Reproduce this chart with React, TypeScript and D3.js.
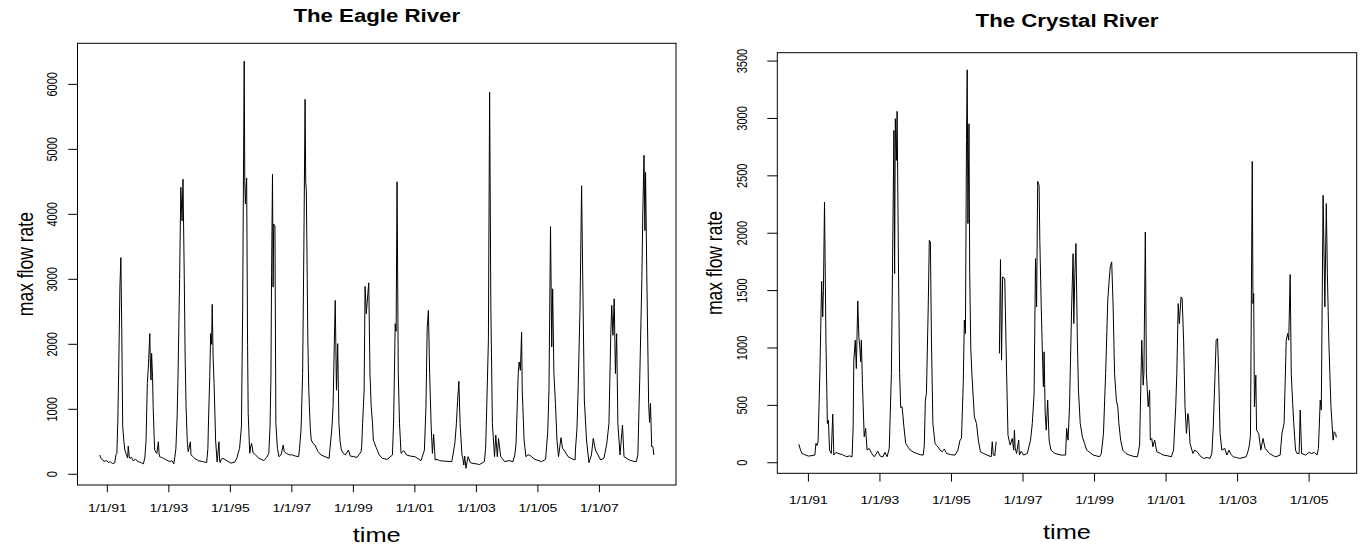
import React from "react";
import * as d3 from "d3";

const SX = 1.27;
const FONT = "'Liberation Sans', Arial, Helvetica, sans-serif";

type Pt = [number, number] | null;

const eagleSeries: Pt[] = [
  [1990.75, 297], [1990.8, 240], [1990.86, 215], [1990.91, 200], [1990.97, 210], [1991.04, 185], [1991.1, 190], [1991.17, 165], [1991.24, 175], [1991.28, 300], [1991.31, 320], [1991.34, 800], [1991.37, 1600], [1991.41, 2900], [1991.44, 3335], [1991.47, 2200], [1991.5, 730], [1991.54, 500], [1991.57, 373], [1991.62, 300], [1991.66, 250], [1991.68, 435], [1991.71, 280], [1991.73, 245], [1991.79, 260], [1991.84, 210], [1991.92, 230], [1992.0, 195], [1992.1, 180], [1992.17, 160], [1992.22, 250], [1992.26, 527], [1992.3, 1400], [1992.34, 1700], [1992.38, 2165], [1992.4, 1700], [1992.42, 1450], [1992.44, 1860], [1992.47, 1500], [1992.49, 1040], [1992.52, 600], [1992.54, 373], [1992.58, 340], [1992.61, 320], [1992.66, 500], [1992.68, 330], [1992.7, 270], [1992.76, 260], [1992.83, 245], [1992.92, 220], [1993.03, 195], [1993.1, 210], [1993.16, 160], [1993.2, 280], [1993.23, 400], [1993.27, 900], [1993.3, 1550], [1993.35, 3000], [1993.39, 4415], [1993.43, 3900], [1993.46, 4540], [1993.5, 3085], [1993.53, 1800], [1993.56, 1040], [1993.6, 500], [1993.63, 348], [1993.7, 500], [1993.72, 300], [1993.76, 280], [1993.85, 240], [1993.96, 210], [1994.1, 195], [1994.23, 180], [1994.27, 400], [1994.29, 834], [1994.33, 1500], [1994.36, 2165], [1994.39, 2000], [1994.41, 2614], [1994.44, 1800], [1994.47, 1396], [1994.5, 900], [1994.52, 527], [1994.57, 190], [1994.63, 500], [1994.65, 220], [1994.67, 180], [1994.7, 230], [1994.76, 245], [1994.85, 220], [1994.92, 200], [1995.02, 170], [1995.15, 190], [1995.22, 260], [1995.25, 322], [1995.3, 400], [1995.36, 731], [1995.4, 2500], [1995.42, 4107], [1995.45, 6358], [1995.47, 4500], [1995.49, 4160], [1995.51, 4400], [1995.53, 4560], [1995.56, 2000], [1995.58, 936], [1995.63, 322], [1995.66, 420], [1995.69, 475], [1995.74, 330], [1995.82, 297], [1995.92, 250], [1996.0, 230], [1996.09, 210], [1996.18, 260], [1996.25, 322], [1996.29, 731], [1996.32, 1500], [1996.34, 3085], [1996.37, 4619], [1996.39, 2880], [1996.41, 3850], [1996.43, 3830], [1996.45, 3826], [1996.48, 782], [1996.53, 400], [1996.58, 271], [1996.65, 300], [1996.72, 450], [1996.75, 350], [1996.82, 322], [1996.92, 300], [1997.02, 297], [1997.12, 280], [1997.22, 271], [1997.25, 400], [1997.3, 700], [1997.35, 1550], [1997.39, 3500], [1997.43, 5770], [1997.45, 4500], [1997.47, 4363], [1997.5, 3000], [1997.52, 2061], [1997.55, 1300], [1997.57, 1040], [1997.6, 700], [1997.63, 527], [1997.68, 480], [1997.75, 450], [1997.85, 350], [1997.95, 297], [1998.08, 270], [1998.21, 245], [1998.24, 400], [1998.3, 700], [1998.34, 1040], [1998.38, 2000], [1998.41, 2675], [1998.45, 1294], [1998.49, 2010], [1998.53, 782], [1998.57, 500], [1998.61, 373], [1998.68, 320], [1998.74, 297], [1998.84, 373], [1998.9, 280], [1999.01, 271], [1999.12, 260], [1999.25, 348], [1999.27, 425], [1999.3, 782], [1999.35, 1294], [1999.38, 2890], [1999.42, 2470], [1999.47, 2777], [1999.5, 2946], [1999.54, 1550], [1999.58, 1040], [1999.62, 800], [1999.65, 527], [1999.74, 414], [1999.84, 300], [1999.94, 245], [2000.1, 230], [2000.27, 297], [2000.31, 834], [2000.36, 2317], [2000.39, 2200], [2000.42, 4501], [2000.46, 1550], [2000.5, 782], [2000.55, 322], [2000.64, 363], [2000.73, 297], [2000.85, 280], [2001.0, 271], [2001.1, 240], [2001.2, 210], [2001.31, 373], [2001.36, 1040], [2001.4, 2256], [2001.44, 2522], [2001.48, 1550], [2001.53, 731], [2001.57, 322], [2001.61, 614], [2001.66, 220], [2001.72, 230], [2001.8, 210], [2002.0, 200], [2002.2, 195], [2002.3, 475], [2002.35, 782], [2002.39, 1140], [2002.43, 1432], [2002.47, 782], [2002.53, 300], [2002.56, 250], [2002.59, 143], [2002.62, 280], [2002.66, 92], [2002.7, 200], [2002.73, 271], [2002.8, 180], [2002.86, 170], [2003.0, 160], [2003.1, 150], [2003.26, 195], [2003.3, 400], [2003.32, 731], [2003.39, 2061], [2003.43, 5882], [2003.47, 2573], [2003.52, 782], [2003.59, 271], [2003.63, 604], [2003.68, 271], [2003.72, 552], [2003.79, 271], [2003.92, 195], [2004.05, 210], [2004.19, 195], [2004.25, 300], [2004.29, 475], [2004.36, 1550], [2004.39, 1729], [2004.43, 1600], [2004.47, 2189], [2004.49, 1300], [2004.55, 527], [2004.61, 271], [2004.68, 300], [2004.74, 290], [2004.9, 230], [2005.12, 195], [2005.25, 230], [2005.32, 655], [2005.36, 1294], [2005.41, 3810], [2005.45, 1959], [2005.48, 2854], [2005.52, 1550], [2005.57, 1090], [2005.62, 527], [2005.67, 271], [2005.75, 563], [2005.8, 400], [2005.85, 373], [2005.98, 271], [2006.1, 240], [2006.21, 220], [2006.22, 373], [2006.27, 700], [2006.31, 1345], [2006.37, 2573], [2006.42, 4440], [2006.47, 2573], [2006.51, 1140], [2006.58, 527], [2006.66, 179], [2006.74, 297], [2006.8, 552], [2006.87, 373], [2006.95, 300], [2007.04, 220], [2007.15, 250], [2007.24, 475], [2007.31, 782], [2007.37, 2164], [2007.4, 2599], [2007.44, 2138], [2007.48, 2700], [2007.52, 1550], [2007.56, 2164], [2007.6, 782], [2007.67, 297], [2007.75, 757], [2007.8, 271], [2007.97, 220], [2008.1, 200], [2008.2, 195], [2008.25, 300], [2008.31, 1447], [2008.38, 3000], [2008.41, 4005], [2008.45, 4910], [2008.48, 3750], [2008.5, 4645], [2008.54, 3085], [2008.6, 1090], [2008.63, 800], [2008.66, 1090], [2008.7, 425], [2008.74, 425], [2008.77, 297],
];

const crystalSeries: Pt[] = [
  [1990.73, 162], [1990.78, 110], [1990.82, 81], [1990.9, 70], [1991.0, 58], [1991.1, 62], [1991.18, 67], [1991.21, 168], [1991.24, 150], [1991.27, 183], [1991.32, 778], [1991.37, 1581], [1991.4, 1271], [1991.42, 1500], [1991.45, 2272], [1991.49, 1068], [1991.53, 342], [1991.56, 371], [1991.59, 110], [1991.64, 81], [1991.68, 424], [1991.71, 67], [1991.77, 90], [1991.83, 81], [1991.95, 70], [1992.07, 52], [1992.15, 60], [1992.22, 52], [1992.25, 300], [1992.27, 894], [1992.31, 1068], [1992.34, 821], [1992.38, 1410], [1992.41, 1097], [1992.44, 1000], [1992.46, 879], [1992.48, 1068], [1992.51, 691], [1992.56, 226], [1992.6, 299], [1992.64, 110], [1992.7, 125], [1992.77, 80], [1992.84, 52], [1992.94, 100], [1993.0, 60], [1993.08, 50], [1993.14, 90], [1993.2, 52], [1993.26, 125], [1993.32, 778], [1993.35, 1648], [1993.39, 2896], [1993.41, 1648], [1993.43, 2998], [1993.46, 2635], [1993.48, 3062], [1993.52, 1648], [1993.55, 778], [1993.58, 480], [1993.62, 488], [1993.67, 313], [1993.72, 168], [1993.8, 130], [1993.85, 110], [1993.95, 90], [1994.03, 81], [1994.12, 70], [1994.21, 67], [1994.24, 150], [1994.27, 546], [1994.3, 604], [1994.35, 1358], [1994.38, 1938], [1994.41, 1924], [1994.44, 1068], [1994.48, 342], [1994.54, 168], [1994.58, 150], [1994.62, 139], [1994.68, 110], [1994.74, 96], [1994.8, 120], [1994.86, 81], [1994.98, 70], [1995.1, 67], [1995.18, 110], [1995.24, 197], [1995.28, 212], [1995.33, 700], [1995.36, 1242], [1995.39, 1126], [1995.42, 2809], [1995.44, 3424], [1995.46, 2084], [1995.49, 2954], [1995.51, 1648], [1995.54, 1000], [1995.57, 778], [1995.64, 400], [1995.7, 342], [1995.75, 197], [1995.81, 96], [1995.9, 80], [1995.99, 67], [1996.05, 60], [1996.11, 52], [1996.14, 183], [1996.17, 67], [1996.21, 60], [1996.25, 183],
  null,
  [1996.34, 952], [1996.37, 1770], [1996.4, 894], [1996.43, 1619], [1996.49, 1605], [1996.54, 800], [1996.58, 240], [1996.64, 154], [1996.7, 212], [1996.74, 110], [1996.76, 284], [1996.78, 130], [1996.82, 81], [1996.88, 197], [1996.9, 67], [1996.95, 100], [1997.02, 67], [1997.12, 81], [1997.21, 197], [1997.26, 342], [1997.31, 604], [1997.35, 1779], [1997.38, 1358], [1997.41, 2452], [1997.45, 2417], [1997.47, 1938], [1997.51, 1358], [1997.54, 981], [1997.57, 662], [1997.59, 966], [1997.62, 429], [1997.65, 284], [1997.69, 546], [1997.73, 197], [1997.78, 110], [1997.89, 81], [1998.07, 67], [1998.19, 67], [1998.22, 299], [1998.26, 197], [1998.3, 488], [1998.36, 1358], [1998.4, 1822], [1998.42, 1213], [1998.45, 1648], [1998.48, 1910], [1998.52, 1068], [1998.55, 633], [1998.6, 342], [1998.66, 226], [1998.72, 168], [1998.78, 110], [1998.87, 90], [1998.96, 67], [1999.05, 60], [1999.14, 52], [1999.19, 81], [1999.25, 255], [1999.31, 778], [1999.37, 1416], [1999.41, 1590], [1999.44, 1706], [1999.48, 1750], [1999.52, 1358], [1999.56, 778], [1999.61, 546], [1999.65, 488], [1999.68, 342], [1999.73, 197], [1999.79, 110], [1999.88, 80], [1999.97, 67], [2000.1, 55], [2000.2, 52], [2000.26, 154], [2000.32, 1068], [2000.36, 676], [2000.38, 778], [2000.42, 2011], [2000.45, 778], [2000.5, 488], [2000.54, 633], [2000.56, 197], [2000.6, 212], [2000.63, 139], [2000.68, 197], [2000.74, 96], [2000.85, 80], [2000.92, 67], [2001.05, 60], [2001.15, 52], [2001.21, 110], [2001.27, 488], [2001.3, 778], [2001.34, 1387], [2001.37, 1213], [2001.42, 1445], [2001.45, 1430], [2001.49, 1068], [2001.53, 488], [2001.57, 255], [2001.61, 429], [2001.63, 400], [2001.67, 168], [2001.75, 81], [2001.8, 110], [2001.87, 96], [2001.95, 60], [2002.05, 38], [2002.15, 45], [2002.23, 38], [2002.28, 81], [2002.32, 313], [2002.37, 778], [2002.4, 1068], [2002.44, 1082], [2002.47, 778], [2002.51, 255], [2002.56, 110], [2002.64, 125], [2002.7, 67], [2002.76, 110], [2002.82, 70], [2002.88, 52], [2002.97, 45], [2003.06, 38], [2003.15, 45], [2003.24, 52], [2003.3, 110], [2003.33, 154], [2003.36, 241], [2003.41, 2626], [2003.43, 1387], [2003.45, 1474], [2003.47, 488], [2003.51, 763], [2003.53, 284], [2003.59, 255], [2003.65, 110], [2003.71, 212], [2003.77, 125], [2003.89, 81], [2004.0, 60], [2004.07, 52], [2004.19, 67], [2004.24, 255], [2004.3, 342], [2004.36, 1068], [2004.4, 1126], [2004.43, 1068], [2004.47, 1640], [2004.5, 778], [2004.54, 517], [2004.57, 342], [2004.62, 110], [2004.66, 81], [2004.72, 81], [2004.75, 459], [2004.79, 81], [2004.9, 67], [2005.0, 90], [2005.07, 80], [2005.15, 90], [2005.22, 67], [2005.26, 125], [2005.31, 546], [2005.34, 459], [2005.39, 2330], [2005.44, 1358], [2005.48, 2258], [2005.51, 1648], [2005.55, 1068], [2005.61, 488], [2005.67, 197], [2005.7, 270], [2005.74, 255], [2005.76, 220],
];

const eagleYTicks = [0, 1000, 2000, 3000, 4000, 5000, 6000];
const crystalYTicks = [0, 500, 1000, 1500, 2000, 2500, 3000, 3500];
const eagleXTicks = [1991, 1993, 1995, 1997, 1999, 2001, 2003, 2005, 2007];
const crystalXTicks = [1991, 1993, 1995, 1997, 1999, 2001, 2003, 2005];
const titles = ["The Eagle River", "The Crystal River"];
const xLabel = "time";
const yLabel = "max flow rate";

const fmtDate = (y: number) => `1/1/${String(y % 100).padStart(2, "0")}`;

interface PanelCfg {
  title: string;
  series: Pt[];
  xTicks: number[];
  yTicks: number[];
  box: { x0: number; x1: number; y0: number; y1: number };
  xDomain: [number, number];
  yDomain: [number, number];
  yTickLen: number;
  xTickLen: number;
  yLabelX: number;
  yTitleX: number;
  xLabelY: number;
  xTitleY: number;
  titleY: number;
}

const panels: PanelCfg[] = [
  {
    title: titles[0],
    series: eagleSeries,
    xTicks: eagleXTicks,
    yTicks: eagleYTicks,
    box: { x0: 77.5, x1: 676, y0: 43.3, y1: 485 },
    xDomain: [1990.03, 2009.49],
    yDomain: [-165, 6632],
    yTickLen: 9.3,
    xTickLen: 7.3,
    yLabelX: 56.7,
    yTitleX: 33,
    xLabelY: 511.5,
    xTitleY: 542,
    titleY: 21.7,
  },
  {
    title: titles[1],
    series: crystalSeries,
    xTicks: crystalXTicks,
    yTicks: crystalYTicks,
    box: { x0: 777.3, x1: 1356.7, y0: 52.7, y1: 473.3 },
    xDomain: [1990.13, 2006.33],
    yDomain: [-92, 3573],
    yTickLen: 10,
    xTickLen: 8.3,
    yLabelX: 746.7,
    yTitleX: 722,
    xLabelY: 504,
    xTitleY: 539,
    titleY: 27,
  },
];

function T(props: { x: number; y: number; rot?: number; size: number; bold?: boolean; children: React.ReactNode }) {
  const { x, y, rot = 0, size, bold, children } = props;
  return (
    <text
      transform={`translate(${x},${y}) scale(${SX},1) rotate(${rot})`}
      textAnchor="middle"
      fontFamily={FONT}
      fontSize={size}
      fontWeight={bold ? "bold" : "normal"}
      fill="#000"
    >
      {children}
    </text>
  );
}

function Panel({ cfg }: { cfg: PanelCfg }) {
  const { box } = cfg;
  const x = d3.scaleLinear().domain(cfg.xDomain).range([box.x0, box.x1]);
  const y = d3.scaleLinear().domain(cfg.yDomain).range([box.y1, box.y0]);
  const line = d3
    .line<Pt>()
    .defined((d) => d !== null)
    .x((d) => x((d as [number, number])[0]))
    .y((d) => y((d as [number, number])[1]));
  const cx = (box.x0 + box.x1) / 2;
  const cy = (box.y0 + box.y1) / 2;
  return (
    <g>
      <path d={line(cfg.series) || ""} fill="none" stroke="#000" strokeWidth={1} strokeLinejoin="round" />
      <rect x={box.x0} y={box.y0} width={box.x1 - box.x0} height={box.y1 - box.y0} fill="none" stroke="#000" strokeWidth={1} />
      {cfg.yTicks.map((t) => (
        <g key={"y" + t}>
          <line x1={box.x0 - cfg.yTickLen} x2={box.x0} y1={y(t)} y2={y(t)} stroke="#000" strokeWidth={1} />
          <T x={cfg.yLabelX} y={y(t)} rot={-90} size={11}>
            {String(t)}
          </T>
        </g>
      ))}
      {cfg.xTicks.map((t) => (
        <g key={"x" + t}>
          <line x1={x(t)} x2={x(t)} y1={box.y1} y2={box.y1 + cfg.xTickLen} stroke="#000" strokeWidth={1} />
          <T x={x(t)} y={cfg.xLabelY} size={11}>
            {fmtDate(t)}
          </T>
        </g>
      ))}
      <T x={cx} y={cfg.titleY} size={17.5} bold>
        {cfg.title}
      </T>
      <T x={cx} y={cfg.xTitleY} size={20}>
        {xLabel}
      </T>
      <T x={cfg.yTitleX} y={cy} rot={-90} size={17.5}>
        {yLabel}
      </T>
    </g>
  );
}

export default function App() {
  return (
    <svg
      width={1367}
      height={548}
      style={{ position: "absolute", left: 0, top: 0, background: "#fff" }}
    >
      <rect x={0} y={0} width={1367} height={548} fill="#fff" />
      {panels.map((p) => (
        <Panel key={p.title} cfg={p} />
      ))}
    </svg>
  );
}
